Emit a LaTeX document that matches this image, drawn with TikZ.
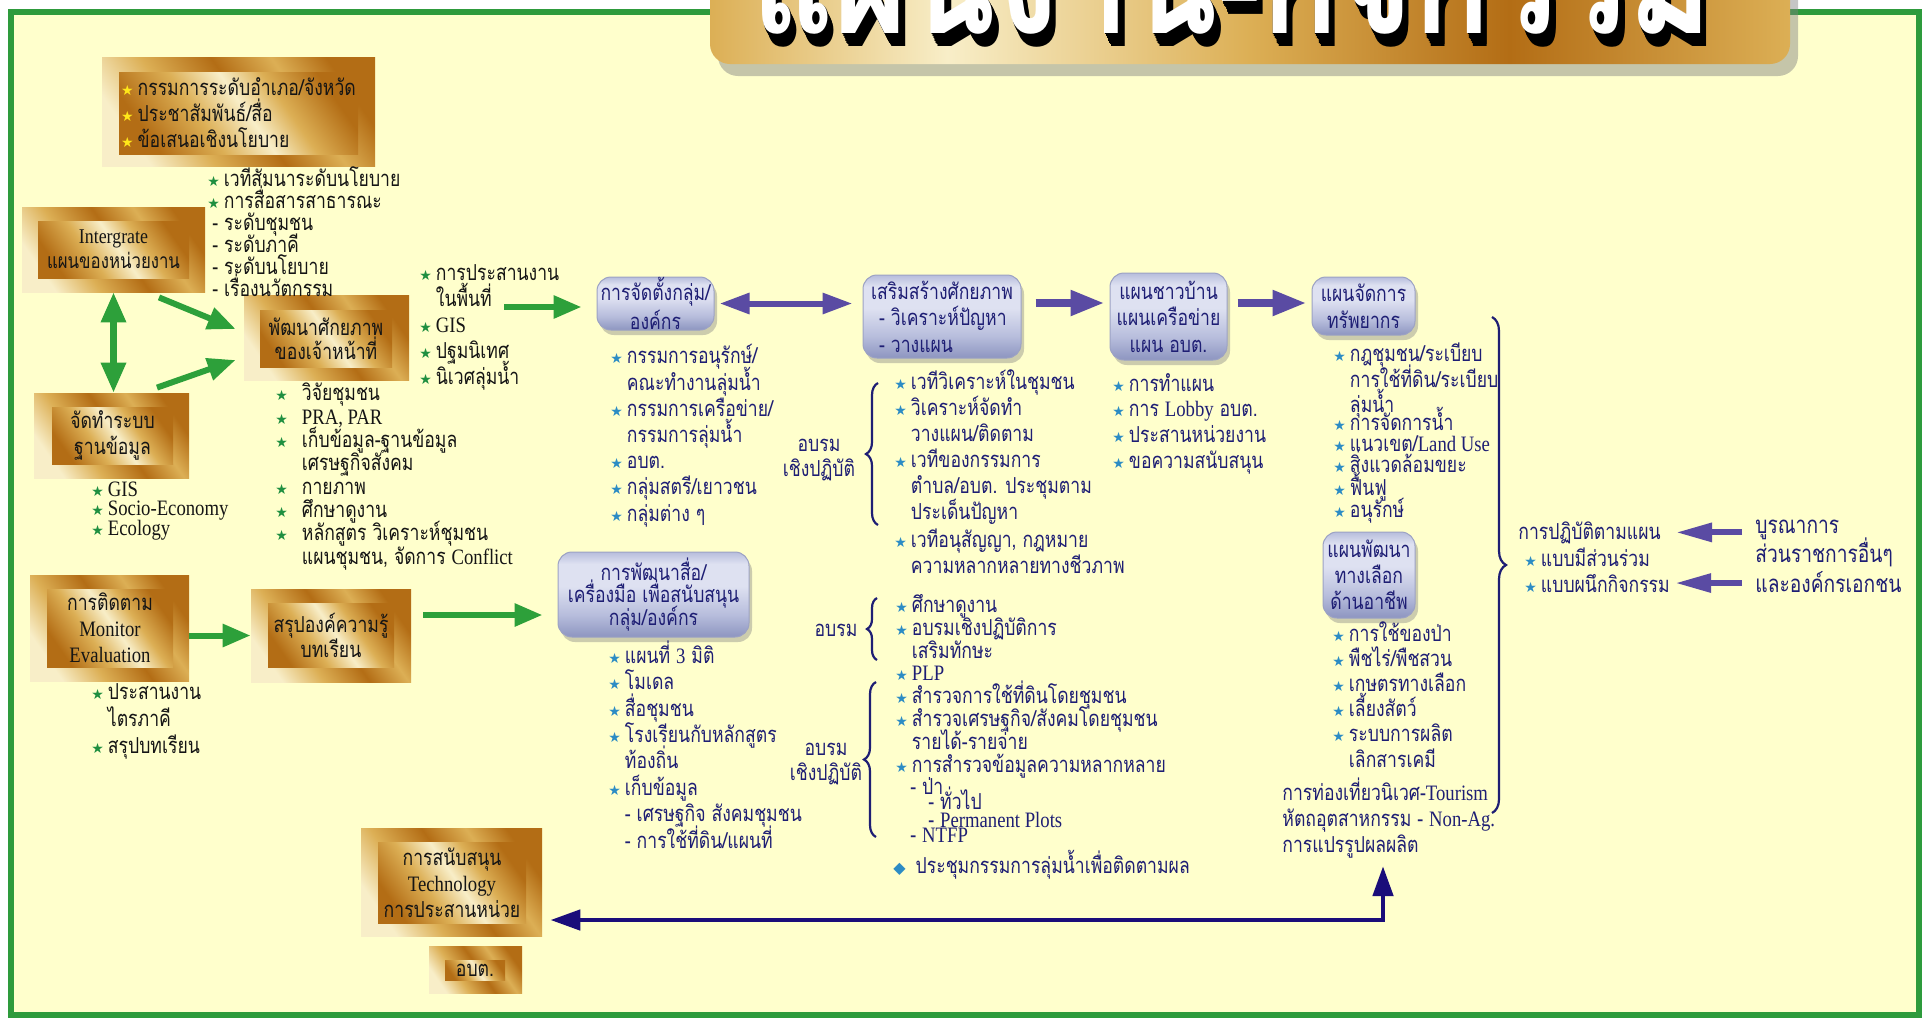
\documentclass[tikz,border=0pt]{standalone}
\usepackage{fontspec}
\setmainfont{Liberation Serif}
\newfontfamily\thai[Script=Thai,FakeStretch=0.8]{Loma}
\newfontfamily\latin[FakeStretch=0.85]{Liberation Serif}
\newfontfamily\symb{DejaVu Sans}
\usetikzlibrary{positioning}
\usetikzlibrary{arrows.meta}
\usetikzlibrary{shadows}
\usetikzlibrary{decorations.pathreplacing}

\definecolor{paper}{HTML}{FFFFCC}
\definecolor{framegreen}{HTML}{2E9B3C}
\definecolor{arrowgreen}{HTML}{2DA03A}
\definecolor{ink}{HTML}{151515}
\definecolor{navy}{HTML}{1E1E74}
\definecolor{deepnavy}{HTML}{1A0D7A}
\definecolor{violet}{HTML}{5A4BA3}
\definecolor{stargreen}{HTML}{1F8F40}
\definecolor{starblue}{HTML}{2C8CC4}
\definecolor{staryellow}{HTML}{FFE81A}
\definecolor{gbrown}{HTML}{B36D15}
\definecolor{ggold}{HTML}{DCAF55}
\definecolor{gpale}{HTML}{F8EEC8}
\definecolor{bdark}{HTML}{8D95C0}
\definecolor{bmid}{HTML}{B7BDDC}
\definecolor{blight}{HTML}{DEE1F1}
\definecolor{bline}{HTML}{9CA2C4}

\pgfdeclarehorizontalshading{goldframe}{100bp}{color(0bp)=(gpale); color(25bp)=(gpale); color(38bp)=(ggold); color(52bp)=(gbrown); color(64bp)=(ggold); color(75bp)=(gbrown); color(100bp)=(gbrown)}
\pgfdeclarehorizontalshading{goldface}{100bp}{color(0bp)=(gbrown); color(25bp)=(gbrown); color(40bp)=(ggold); color(52bp)=(gpale); color(62bp)=(ggold); color(75bp)=(gbrown); color(100bp)=(gbrown)}
\pgfdeclareverticalshading{bluebox}{100bp}{color(0bp)=(bdark); color(25bp)=(bdark); color(38bp)=(bmid); color(55bp)=(blight); color(68bp)=(blight); color(75bp)=(bmid); color(100bp)=(bmid)}
\pgfdeclarehorizontalshading{titlebar}{100bp}{color(0bp)=(ggold); color(25bp)=(ggold); color(36bp)=(gpale); color(50bp)=(ggold); color(62bp)=(gbrown); color(75bp)=(ggold); color(100bp)=(ggold)}

\newcommand\gst{{\symb\fontsize{7}{7}\selectfont\textcolor{stargreen}{★}}\hspace{2pt}}
\newcommand\bst{{\symb\fontsize{7}{7}\selectfont\textcolor{starblue}{★}}\hspace{2pt}}
\newcommand\yst{{\symb\fontsize{7}{7}\selectfont\textcolor{staryellow}{★}}\hspace{2pt}}
\newcommand\dia{{\symb\fontsize{8}{8}\selectfont\textcolor{starblue}{◆}}\hspace{5pt}}
\newcommand\ind{\hphantom{\bst}}
\newcommand\gsw{\gst\hspace{5pt}}
\newcommand\indw{\hphantom{\gsw}}
\newcommand\en[1]{{\latin #1}}
\newcommand\tightlines{\lineskiplimit=-100pt\lineskip=0pt}

\tikzset{
  goldframe/.style={shading=goldframe, shading angle=35, inner sep=0pt},
  goldface/.style={shading=goldface, shading angle=35, inner sep=0pt, align=center, text=ink, font=\thai\fontsize{11}{13}\selectfont\tightlines},
  bluebox/.style={shading=bluebox, draw=bline, line width=0.5pt, rounded corners=7pt, inner sep=0pt, align=center, text=navy, font=\thai\fontsize{11}{13.25}\selectfont\tightlines, drop shadow={shadow xshift=1.5pt, shadow yshift=-2.5pt, opacity=0.4}},
  lst/.style={anchor=base west, align=left, inner sep=0pt, font=\thai\fontsize{11}{#1}\selectfont\tightlines},
  leftlst/.style={lst=#1, text=ink},
  midlst/.style={lst=#1, text=navy},
  titletext/.style={anchor=base, inner sep=0pt, font=\thai\bfseries\fontsize{80}{80}\selectfont},
  garrow/.style={draw=arrowgreen, line width=3pt, -{Triangle[length=14pt,width=11pt]}},
  varrow/.style={draw=violet, line width=4pt, -{Triangle[length=17pt,width=12pt]}},
  narrow/.style={draw=deepnavy, line width=2.4pt, {Triangle[length=15pt,width=10pt]}-{Triangle[length=15pt,width=10pt]}},
  bracel/.style={draw=navy, line width=1.1pt, decorate, decoration={brace, amplitude=#1}},
}

\begin{document}
\begin{tikzpicture}[x=0.5pt, y=-0.5pt]
  \useasboundingbox (0,0) rectangle (1926,1019);
  \clip (0,0) rectangle (1926,1019);
  \fill[white] (0,0) rectangle (1926,1019);
  \fill[paper] (11,12) rectangle (1919,1015);
  \draw[framegreen, line width=3pt] (11,12) rectangle (1919,1015);

  % title
  \node[shading=titlebar, rounded corners=10pt, minimum width=540pt, minimum height=52pt, drop shadow={shadow xshift=4pt, shadow yshift=-6pt, opacity=0.45}] (bar) at (1250,12) {};
  \foreach \k in {1,...,8}
    \node[titletext, text=black] (tsh\k) at (1232+\k*0.8,33+\k*1.7) {แผนงาน-กิจกรรม};
  \node[titletext, text=white] (title) at (1232,33) {แผนงาน-กิจกรรม};

  % gold boxes
  \node[goldframe, minimum width=136.5pt, minimum height=54.5pt] (topF) at (238.5,111.5) {};
  \node[goldface, minimum width=119.5pt, minimum height=41pt, align=left] (top) at (238.5,113) {\yst กรรมการระดับอำเภอ/จังหวัด\\ \yst ประชาสัมพันธ์/สื่อ\\ \yst ข้อเสนอเชิงนโยบาย};
  \node[goldframe, minimum width=91.5pt, minimum height=42.5pt] (intgF) at (113.5,249.5) {};
  \node[goldface, minimum width=75.5pt, minimum height=28.5pt, font=\thai\fontsize{10.5}{12.5}\selectfont\tightlines] (intg) at (113.5,249.5) {\en{Intergrate}\\แผนของหน่วยงาน};
  \node[goldframe, minimum width=82.5pt, minimum height=42.5pt] (devF) at (326.5,337.5) {};
  \node[goldface, minimum width=66pt, minimum height=28.5pt, font=\thai\fontsize{11}{12}\selectfont\tightlines] (dev) at (326,338.5) {พัฒนาศักยภาพ\\ของเจ้าหน้าที่};
  \node[goldframe, minimum width=77.5pt, minimum height=42.5pt] (dbF) at (111.5,435.5) {};
  \node[goldface, minimum width=60.5pt, minimum height=28.5pt] (db) at (112.5,435.5) {จัดทำระบบ\\ฐานข้อมูล};
  \node[goldframe, minimum width=79.5pt, minimum height=53pt] (monF) at (109.5,628) {};
  \node[goldface, minimum width=63pt, minimum height=39pt] (mon) at (110,628) {การติดตาม\\\en{Monitor}\\\en{Evaluation}};
  \node[goldframe, minimum width=80pt, minimum height=46.5pt] (sumF) at (331,635.5) {};
  \node[goldface, minimum width=63pt, minimum height=32pt, font=\thai\fontsize{11}{12.5}\selectfont\tightlines] (sum) at (331,635) {สรุปองค์ความรู้\\บทเรียน};
  \node[goldframe, minimum width=90.5pt, minimum height=54pt] (supF) at (451.5,882) {};
  \node[goldface, minimum width=74pt, minimum height=40.5pt] (sup) at (452,882.5) {การสนับสนุน\\\en{Technology}\\การประสานหน่วย};
  \node[goldframe, minimum width=46.5pt, minimum height=23.5pt] (obtF) at (475.5,969.5) {};
  \node[goldface, minimum width=30pt, minimum height=10pt] (obt) at (475,970) {อบต.};

  % blue boxes
  \node[bluebox, minimum width=58.5pt, minimum height=26.5pt, font=\thai\fontsize{11}{14.5}\selectfont\tightlines] (grp) at (655.5,303.5) {การจัดตั้งกลุ่ม/\\องค์กร};
  \node[bluebox, minimum width=79pt, minimum height=41.5pt, align=left] (cap) at (942,316.5) {เสริมสร้างศักยภาพ\\\hspace*{4pt}- วิเคราะห์ปัญหา\\\hspace*{4pt}- วางแผน};
  \node[bluebox, minimum width=58.5pt, minimum height=43.5pt] (vil) at (1168.5,316.5) {แผนชาวบ้าน\\แผนเครือข่าย\\แผน อบต.};
  \node[bluebox, minimum width=51.5pt, minimum height=29pt, font=\thai\fontsize{11}{13.5}\selectfont\tightlines] (res) at (1363.5,306) {แผนจัดการ\\ทรัพยากร};
  \node[bluebox, minimum width=46pt, minimum height=43pt, font=\thai\fontsize{11}{13}\selectfont\tightlines] (alt) at (1369,575) {แผนพัฒนา\\ทางเลือก\\ด้านอาชีพ};
  \node[bluebox, minimum width=95.5pt, minimum height=42.5pt, font=\thai\fontsize{11}{11.25}\selectfont\tightlines] (med) at (653.5,594.5) {การพัฒนาสื่อ/\\เครื่องมือ เพื่อสนับสนุน\\กลุ่ม/องค์กร};

  % left lists (placed at the baseline of their last line)
  \node[leftlst=11] (forum) at (207,296) {\gst เวทีสัมนาระดับนโยบาย\\ \gst การสื่อสารสาธารณะ\\ \hspace*{2.5pt}- ระดับชุมชน\\ \hspace*{2.5pt}- ระดับภาคี\\ \hspace*{2.5pt}- ระดับนโยบาย\\ \hspace*{2.5pt}- เรื่องนวัตกรรม};
  \node[leftlst=12.9] (fieldwork) at (419,384) {\gst การประสานงาน\\ \ind ในพื้นที่\\ \gst \en{GIS}\\ \gst ปฐมนิเทศ\\ \gst นิเวศลุ่มน้ำ};
  \node[leftlst=9.75] (dbitems) at (91,535) {\gst \en{GIS}\\ \gst \en{Socio-Economy}\\ \gst \en{Ecology}};
  \node[leftlst=11.65] (devitems) at (275,564) {\gsw วิจัยชุมชน\\ \gsw \en{PRA, PAR}\\ \gsw เก็บข้อมูล-ฐานข้อมูล\\ \indw เศรษฐกิจสังคม\\ \gsw กายภาพ\\ \gsw ศึกษาดูงาน\\ \gsw หลักสูตร วิเคราะห์ชุมชน\\ \indw แผนชุมชน, จัดการ \en{Conflict}};
  \node[leftlst=13.5] (monitems) at (91,753) {\gst ประสานงาน\\ \ind ไตรภาคี\\ \gst สรุปบทเรียน};

  % middle and right lists
  \node[midlst=13.1] (grpitems) at (610,521) {\bst กรรมการอนุรักษ์/\\ \ind คณะทำงานลุ่มน้ำ\\ \bst กรรมการเครือข่าย/\\ \ind กรรมการลุ่มน้ำ\\ \bst อบต.\\ \bst กลุ่มสตรี/เยาวชน\\ \bst กลุ่มต่าง ๆ};
  \node[midlst=13] (capitems) at (894,573) {\bst เวทีวิเคราะห์ในชุมชน\\ \bst วิเคราะห์จัดทำ\\ \ind วางแผน/ติดตาม\\ \bst เวทีของกรรมการ\\ \ind ตำบล/อบต. ประชุมตาม\\ \ind ประเด็นปัญหา\\[1pt] \bst เวทีอนุสัญญา, กฎหมาย\\ \ind ความหลากหลายทางชีวภาพ};
  \node[midlst=12.8] (vilitems) at (1112,468) {\bst การทำแผน\\ \bst การ \en{Lobby} อบต.\\ \bst ประสานหน่วยงาน\\ \bst ขอความสนับสนุน};
  \node[midlst=10.6] (resitems) at (1333,517) {\bst กฎชุมชน/ระเบียบ\\[2pt] \ind การใช้ที่ดิน/ระเบียบ\\[2pt] \ind ลุ่มน้ำ\\[-1.6pt] \bst การจัดการน้ำ\\ \bst แนวเขต/\en{Land Use}\\ \bst สิ่งแวดล้อมขยะ\\[1pt] \bst ฟื้นฟู\\ \bst อนุรักษ์};
  \node[midlst=12.6] (altitems) at (1332,767) {\bst การใช้ของป่า\\ \bst พืชไร่/พืชสวน\\ \bst เกษตรทางเลือก\\ \bst เลี้ยงสัตว์\\ \bst ระบบการผลิต\\ \ind เลิกสารเคมี};
  \node[midlst=13] (nonag) at (1282,852) {การท่องเที่ยวนิเวศ-\en{Tourism}\\ หัตถอุตสาหกรรม - \en{Non-Ag.}\\ การแปรรูปผลผลิต};
  \node[midlst=13.2] (meditems) at (608,848) {\bst แผนที่ \en{3} มิติ\\ \bst โมเดล\\ \bst สื่อชุมชน\\ \bst โรงเรียนกับหลักสูตร\\ \ind ท้องถิ่น\\ \bst เก็บข้อมูล\\ \ind - เศรษฐกิจ สังคมชุมชน\\ \ind - การใช้ที่ดิน/แผนที่};
  \node[midlst=11.4] (survey) at (895,772) {\bst ศึกษาดูงาน\\ \bst อบรมเชิงปฏิบัติการ\\ \ind เสริมทักษะ\\ \bst \en{PLP}\\ \bst สำรวจการใช้ที่ดินโดยชุมชน\\ \bst สำรวจเศรษฐกิจ/สังคมโดยชุมชน\\ \ind รายได้-รายจ่าย\\ \bst การสำรวจข้อมูลความหลากหลาย};
  \node[midlst=7.5] (forest) at (910,842) {- ป่า\\ \hspace*{9pt}- ทั่วไป\\[1.5pt] \hspace*{9pt}- \en{Permanent Plots}\\ - \en{NTFP}};
  \node[midlst=12] (meet) at (893,873) {\dia ประชุมกรรมการลุ่มน้ำเพื่อติดตามผล};
  \node[midlst=12] (plan1) at (1518,539) {การปฏิบัติตามแผน};
  \node[midlst=12] (plan2) at (1524,566) {\bst แบบมีส่วนร่วม};
  \node[midlst=12] (plan3) at (1524,592) {\bst แบบผนึกกิจกรรม};
  \node[midlst=14.7, font=\thai\fontsize{12}{14.7}\selectfont\tightlines] (integ) at (1755,592) {บูรณาการ\\ส่วนราชการอื่นๆ\\และองค์กรเอกชน};

  % training labels and braces
  \node[midlst=12.5, anchor=center, align=center] (train1) at (819,460) {อบรม\\เชิงปฏิบัติ};
  \node[midlst=12, anchor=center] (train2) at (836,630) {อบรม};
  \node[midlst=12.5, anchor=center, align=center] (train3) at (826,764) {อบรม\\เชิงปฏิบัติ};
  \draw[bracel=6pt] (878,525) -- (878,383);
  \draw[bracel=5pt] (877,660) -- (877,598);
  \draw[bracel=6pt] (876,837) -- (876,682);
  \draw[bracel=7pt] (1492,317) -- (1492,813);

  % green arrows
  \draw[garrow, line width=3.2pt, {Triangle[length=15pt,width=12pt]}-{Triangle[length=15pt,width=12pt]}] (intgF.south) -- (intgF.south |- dbF.north);
  \draw[garrow] ([xshift=22.75pt,yshift=-2.5pt]intgF.south) -- ([xshift=-4pt,yshift=4.25pt]devF.west);
  \draw[garrow] ([xshift=22.75pt,yshift=2.5pt]dbF.north) -- ([xshift=-4pt,yshift=-11.25pt]devF.west);
  \coordinate (fromdev) at (504,307);
  \draw[garrow] (fromdev) -- ([xshift=-7.5pt]grp.west |- fromdev);
  \draw[garrow] (monF.east |- sumF.west) -- (sumF.west);
  \coordinate (fromsum) at (423,615);
  \draw[garrow] (fromsum) -- ([xshift=-7.5pt]med.west |- fromsum);

  % violet arrows
  \draw[varrow, line width=3pt, {Triangle[length=15pt,width=10pt]}-{Triangle[length=15pt,width=10pt]}, shorten <=2.5pt, shorten >=5pt] (grp.east) -- (grp.east -| cap.west);
  \draw[varrow, shorten <=7pt, shorten >=2.5pt] ([yshift=6.75pt]cap.east) -- ([yshift=6.75pt]cap.east -| vil.west);
  \draw[varrow, shorten <=5pt, shorten >=2.5pt] ([yshift=6.75pt]vil.east) -- ([yshift=6.75pt]vil.east -| res.west);
  \draw[varrow, line width=3pt, -{Triangle[length=18pt,width=9pt]}, shorten <=6.5pt, shorten >=7.5pt] (integ.west |- plan1.east) -- (plan1.east);
  \draw[varrow, line width=3pt, -{Triangle[length=18pt,width=9pt]}, shorten <=6.5pt, shorten >=2.5pt] (integ.west |- plan3.east) -- (plan3.east);

  % return arrow
  \coordinate (turn) at (1383,920);
  \draw[narrow, shorten <=4pt, shorten >=4pt] (turn |- nonag.south) -- (turn) -- (supF.east |- turn);
\end{tikzpicture}
\end{document}
